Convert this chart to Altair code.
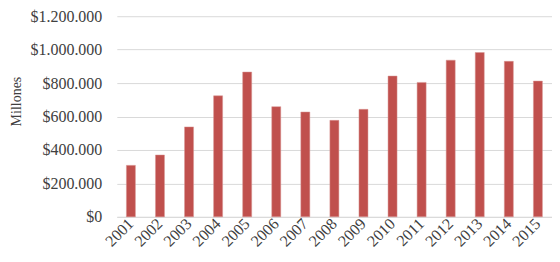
import altair as alt
import pandas as pd

years = [str(y) for y in range(2001, 2016)]
values = [308000, 370000, 538000, 724000, 866000, 659000, 627000, 577000,
          643000, 842000, 804000, 937000, 983000, 930000, 812000]
y_ticks = [0, 200000, 400000, 600000, 800000, 1000000, 1200000]

df = pd.DataFrame({"year": years, "value": values})

font = "Liberation Serif, Times New Roman, serif"
txt = "#404040"

chart = alt.Chart(df).mark_bar(color="#c0504d", stroke="#d99694", strokeWidth=0.5).encode(
    x=alt.X("year:N", sort=None,
            scale=alt.Scale(paddingInner=0.69, paddingOuter=0.33),
            axis=alt.Axis(title=None, labelAngle=-45, labelAlign="right",
                          labelBaseline="middle", labelPadding=4, ticks=False,
                          domain=True, domainColor="#d9d9d9", labelFont=font,
                          labelFontSize=16, labelColor=txt)),
    y=alt.Y("value:Q", scale=alt.Scale(domain=[0, 1200000], nice=False),
            axis=alt.Axis(title="Millones", values=y_ticks, format="$,d",
                          ticks=False, domain=False, gridColor="#d9d9d9",
                          labelFont=font, labelFontSize=16, labelColor=txt,
                          labelPadding=15, titleFont=font, titleFontSize=14,
                          titleFontWeight="normal", titleColor=txt,
                          titleX=-93, titleY=85)),
).properties(
    width=436, height=201,
    autosize=alt.AutoSizeParams(type="none"),
    padding={"left": 109, "top": 8, "right": 0, "bottom": 35},
).configure_view(stroke=None)

chart.save("out.html", embed_options={
    "renderer": "svg", "actions": False,
    "formatLocale": {"decimal": ",", "thousands": ".", "grouping": [3],
                     "currency": ["$", ""]}})
